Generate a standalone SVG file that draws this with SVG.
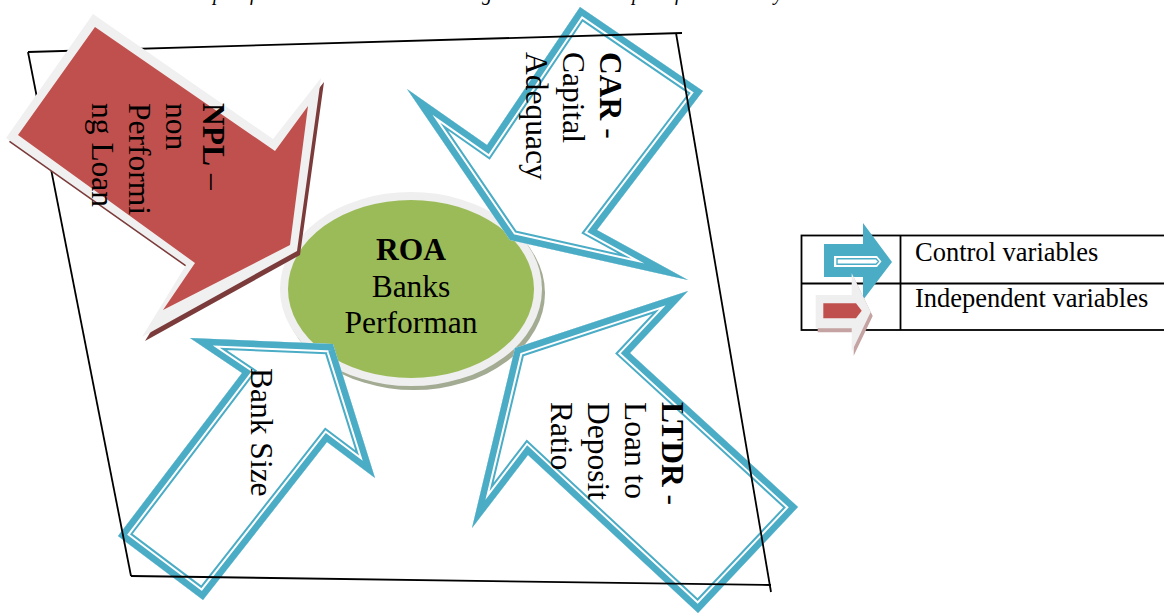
<svg xmlns="http://www.w3.org/2000/svg" xmlns:xlink="http://www.w3.org/1999/xlink" width="1164" height="616" viewBox="0 0 1164 616">
<style>
  .lbl { font-family: "Liberation Serif", "Times New Roman", serif; font-size: 31.5px; fill: #000; }
  .b { font-weight: bold; }
  .leg { font-family: "Liberation Serif", "Times New Roman", serif; font-size: 26.5px; fill: #000; }
  .cap { font-family: "Liberation Serif", "Times New Roman", serif; font-size: 20px; font-style: italic; fill: #000; }
  .band1 { fill: #fff; stroke: #4bacc6; stroke-width: 21; stroke-linejoin: miter; stroke-miterlimit: 20; }
  .band2 { fill: none; stroke: #fff; stroke-width: 17; stroke-linejoin: miter; stroke-miterlimit: 20; }
  .band3 { fill: none; stroke: #4bacc6; stroke-width: 13; stroke-linejoin: miter; stroke-miterlimit: 20; }
  .frame { stroke: #000; stroke-width: 1.8; fill: none; }
  .tbl { stroke: #000; stroke-width: 1.8; fill: none; }
</style>
<defs>
  <polygon id="pCAR" points="580,7 703,91 597,230 688,280 510,240 407,89 487,145"/>
  <polygon id="pBS" points="190,338 333,344 375,478 327,442 203,600 118,536 242,373"/>
  <polygon id="pLTDR" points="688,291 630,353 798,507 698,613 528,455 472,528 515,348"/>
  <clipPath id="cCAR"><use xlink:href="#pCAR"/></clipPath>
  <clipPath id="cBS"><use xlink:href="#pBS"/></clipPath>
  <clipPath id="cLTDR"><use xlink:href="#pLTDR"/></clipPath>
</defs>
<rect x="0" y="0" width="1164" height="616" fill="#fff"/>

<text class="cap" y="0"><tspan x="213">p</tspan><tspan x="250">f</tspan><tspan x="482">g</tspan><tspan x="632">p</tspan><tspan x="675">f</tspan><tspan x="774">y</tspan></text>

<g id="roa">
  <ellipse cx="414" cy="293" rx="131" ry="97" fill="#a3ab93"/>
  <ellipse cx="411" cy="289" rx="131" ry="97" fill="#efefef"/>
  <ellipse cx="411" cy="289" rx="123" ry="89" fill="#9bbb59"/>
  <text class="lbl" text-anchor="middle"><tspan class="b" x="411" y="260">ROA</tspan><tspan x="411" y="296.5">Banks</tspan><tspan x="411" y="333">Performan</tspan></text>
</g>

<g id="car">
  <g clip-path="url(#cCAR)">
    <use xlink:href="#pCAR" class="band1"/>
    <use xlink:href="#pCAR" class="band2"/>
    <use xlink:href="#pCAR" class="band3"/>
  </g>
  <g transform="translate(600,52) rotate(90)">
    <text class="lbl" x="0" y="0"><tspan class="b">CAR</tspan> -</text>
    <text class="lbl" x="0" y="37">Capital</text>
    <text class="lbl" x="0" y="74">Adequacy</text>
  </g>
</g>

<g id="banksize">
  <g clip-path="url(#cBS)">
    <use xlink:href="#pBS" class="band1"/>
    <use xlink:href="#pBS" class="band2"/>
    <use xlink:href="#pBS" class="band3"/>
  </g>
  <g transform="translate(251,368) rotate(90)">
    <text class="lbl" x="0" y="0">Bank Size</text>
  </g>
</g>

<g id="ltdr">
  <g clip-path="url(#cLTDR)">
    <use xlink:href="#pLTDR" class="band1"/>
    <use xlink:href="#pLTDR" class="band2"/>
    <use xlink:href="#pLTDR" class="band3"/>
  </g>
  <g transform="translate(662,402) rotate(90)">
    <text class="lbl" x="0" y="0"><tspan class="b">LTDR</tspan> -</text>
    <text class="lbl" x="0" y="37">Loan to</text>
    <text class="lbl" x="0" y="74">Deposit</text>
    <text class="lbl" x="0" y="111">Ratio</text>
  </g>
</g>

<g id="frame">
  <line class="frame" x1="28" y1="52" x2="682" y2="33"/>
  <line class="frame" x1="676" y1="33" x2="771" y2="592"/>
  <line class="frame" x1="131" y1="576" x2="771" y2="585"/>
  <line class="frame" x1="28" y1="52" x2="131" y2="576"/>
</g>

<g id="npl">
  <polygon points="96,18 276,143 324,82 300,255 145,341 189,269 9,142" fill="#7b3b3a"/>
  <polygon points="93,14 273,139 321,78 297,251 142,337 186,265 6,138" fill="#f0f0f0"/>
  <polygon points="95,27 275,151 308,106 290,245 163,310 195,263 18,135" fill="#c0504d"/>
  <g transform="translate(203,103) rotate(90)">
    <text class="lbl" x="0" y="0"><tspan class="b">NPL</tspan> –</text>
    <text class="lbl" x="0" y="37">non</text>
    <text class="lbl" x="0" y="74">Performi</text>
    <text class="lbl" x="0" y="111">ng Loan</text>
  </g>
</g>

<g id="connectors"></g>

<g id="legend">
  <rect x="801.5" y="235.5" width="380" height="94.5" fill="#fff" class="tbl"/>
  <line class="tbl" x1="900.5" y1="235.5" x2="900.5" y2="330"/>
  <line class="tbl" x1="801.5" y1="283.5" x2="1170" y2="283.5"/>
  <g id="legend-control">
    <polygon points="824,244 863,244 863,223 892,262 863,300 863,277 824,277" fill="#4bacc6"/>
    <polygon points="834,256 877,256 881.5,261.5 877,267 834,267" fill="#fff"/>
    <polygon points="837,258.8 876,258.8 878.5,261.5 876,264.2 837,264.2" fill="#fff" stroke="#4bacc6" stroke-width="1.4"/>
    <text class="leg" x="915" y="261">Control variables</text>
  </g>
  <g id="legend-independent">
    <polygon points="817.7,299 853.7,299 853.7,277.3 872.7,316 853.7,355.7 853.7,332.3 817.7,332.3" fill="#c4a3a2"/>
    <polygon points="815.7,295 851.7,295 851.7,273.3 870.7,312 851.7,351.7 851.7,328.3 815.7,328.3" fill="#efefef"/>
    <polygon points="823.3,303.3 856,303.3 861.7,310.7 856,318.3 823.3,318.3" fill="#c0504d"/>
    <text class="leg" x="915" y="307">Independent variables</text>
  </g>
</g>
</svg>
